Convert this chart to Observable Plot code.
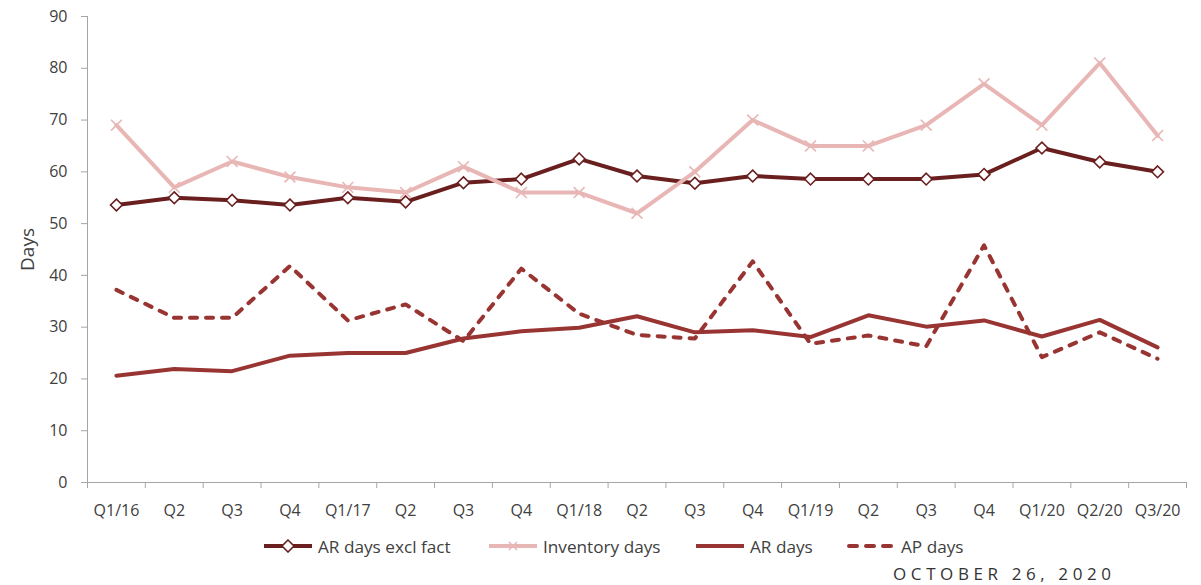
<!DOCTYPE html>
<html>
<head>
<meta charset="utf-8">
<script src="https://cdn.jsdelivr.net/npm/d3@7"></script>
<script src="https://cdn.jsdelivr.net/npm/@observablehq/plot@0.6"></script>
<style>
  html, body { margin: 0; padding: 0; background: #fff; }
  #wrap { position: relative; width: 1201px; height: 585px; font-family: "Open Sans", sans-serif; color: #404040; }
  #legend { position: absolute; left: 0; top: 533px; width: 1201px; height: 26px; font-size: 17.2px; }
  .item { position: absolute; top: 0; height: 26px; display: flex; align-items: center; white-space: nowrap; }
  .item svg { margin-right: 4px; }
  #date { position: absolute; left: 893px; top: 562px; font-size: 17px; letter-spacing: 4.6px; color: #333; white-space: nowrap; }
</style>
</head>
<body>
<div id="wrap">
  <div id="chart"></div>
  <div id="legend"></div>
  <div id="date">OCTOBER 26, 2020</div>
</div>
<script>
// Quarterly working-capital days, Q1 2016 to Q3 2020
const quarters = ["Q1/16","Q2/16","Q3/16","Q4/16","Q1/17","Q2/17","Q3/17","Q4/17","Q1/18","Q2/18","Q3/18","Q4/18","Q1/19","Q2/19","Q3/19","Q4/19","Q1/20","Q2/20","Q3/20"];
const tickLabels = ["Q1/16","Q2","Q3","Q4","Q1/17","Q2","Q3","Q4","Q1/18","Q2","Q3","Q4","Q1/19","Q2","Q3","Q4","Q1/20","Q2/20","Q3/20"];
const arDaysExclFact = [53.6,55.0,54.5,53.6,55.0,54.2,57.9,58.6,62.5,59.2,57.8,59.2,58.6,58.6,58.6,59.5,64.6,61.9,60.0];
const inventoryDays = [69,57,62,59,57,56,61,56,56,52,60,70,65,65,69,77,69,81,67];
const arDays = [20.6,21.9,21.5,24.5,25.0,25.0,27.8,29.2,29.9,32.1,29.0,29.4,28.1,32.3,30.1,31.3,28.2,31.4,26.1];
const apDays = [37.2,31.8,31.8,41.8,31.3,34.4,27.3,41.3,32.6,28.5,27.8,42.7,26.8,28.4,26.3,45.8,24.2,29.0,23.9];
const yTicks = [0,10,20,30,40,50,60,70,80,90];

const colors = {
  arExcl: "#6a1f1f",
  inventory: "#e8b6b5",
  ar: "#983533",
  ap: "#983533",
  axis: "#a6a6a6",
  text: "#404040"
};

const rows = quarters.map((q, i) => ({
  i, q,
  arExcl: arDaysExclFact[i],
  inventory: inventoryDays[i],
  ar: arDays[i],
  ap: apDays[i]
}));

const n = quarters.length;
const boundaries = d3.range(n + 1).map(k => k - 0.5);

const chart = Plot.plot({
  width: 1201,
  height: 530,
  marginLeft: 87,
  marginRight: 15,
  marginTop: 16,
  marginBottom: 48,
  style: { fontFamily: "Open Sans, sans-serif", fontSize: "16px", color: colors.text, background: "#fff" },
  x: { type: "linear", domain: [-0.5, n - 0.5], axis: null },
  y: { domain: [0, 90], axis: null },
  marks: [
    // axis lines
    Plot.ruleX([-0.5], { y1: 0, y2: 90, stroke: colors.axis, strokeWidth: 1 }),
    Plot.ruleY([0], { x1: -0.5, x2: n - 0.5, stroke: colors.axis, strokeWidth: 1 }),
    // y ticks and labels
    Plot.axisY({ ticks: yTicks, tickSize: 6, tickFormat: () => "", label: null, color: colors.axis }),
    Plot.axisY({ ticks: yTicks, tickSize: 0, tickPadding: 20, label: null, color: colors.text, fontSize: 16 }),
    // x ticks at category boundaries, labels at category centres
    Plot.axisX({ ticks: boundaries, tickSize: 6, tickFormat: () => "", label: null, color: colors.axis }),
    Plot.axisX({ ticks: d3.range(n), tickSize: 0, tickPadding: 22, tickFormat: i => tickLabels[i], label: null, color: colors.text, fontSize: 16 }),
    Plot.text(["Days"], { x: -0.5, y: 45, dx: -60, rotate: -90, fontSize: 19, fill: colors.text }),

    // AR days excl fact
    Plot.line(rows, { x: "i", y: "arExcl", stroke: colors.arExcl, strokeWidth: 4, strokeLinejoin: "round" }),
    Plot.dot(rows, { x: "i", y: "arExcl", symbol: "diamond2", r: 5.3, fill: "#fff", stroke: colors.arExcl, strokeWidth: 1.6 }),

    // Inventory days
    Plot.line(rows, { x: "i", y: "inventory", stroke: colors.inventory, strokeWidth: 4, strokeLinejoin: "round" }),
    Plot.dot(rows, { x: "i", y: "inventory", symbol: "times", r: 5, stroke: colors.inventory, strokeWidth: 1.6 }),

    // AR days
    Plot.line(rows, { x: "i", y: "ar", stroke: colors.ar, strokeWidth: 4, strokeLinejoin: "round" }),

    // AP days
    Plot.line(rows, { x: "i", y: "ap", stroke: colors.ap, strokeWidth: 4, strokeDasharray: "7,9", strokeLinecap: "round", strokeLinejoin: "round" })
  ]
});
document.getElementById("chart").appendChild(chart);

// Legend
const legendItems = [
  { label: "AR days excl fact", color: colors.arExcl, marker: "diamond", left: 262 },
  { label: "Inventory days", color: colors.inventory, marker: "times", left: 487 },
  { label: "AR days", color: colors.ar, marker: null, left: 694 },
  { label: "AP days", color: colors.ap, marker: null, dashed: true, left: 845 }
];
const legend = d3.select("#legend");
legendItems.forEach(item => {
  const div = legend.append("div").attr("class", "item").style("left", item.left + "px");
  const svg = div.append("svg").attr("width", 52).attr("height", 14);
  const line = svg.append("line").attr("x1", 2).attr("x2", 50).attr("y1", 7).attr("y2", 7)
    .attr("stroke", item.color).attr("stroke-width", 4);
  if (item.dashed) line.attr("x1", 4).attr("x2", 48).attr("stroke-dasharray", "8,9").attr("stroke-linecap", "round");
  if (item.marker === "diamond") {
    svg.append("path").attr("d", "M26,1 L32,7 L26,13 L20,7 Z")
      .attr("fill", "#fff").attr("stroke", item.color).attr("stroke-width", 1.6);
  } else if (item.marker === "times") {
    svg.append("path").attr("d", "M22,3 L30,11 M30,3 L22,11")
      .attr("stroke", item.color).attr("stroke-width", 1.6);
  }
  div.append("span").text(item.label);
});
</script>
</body>
</html>
